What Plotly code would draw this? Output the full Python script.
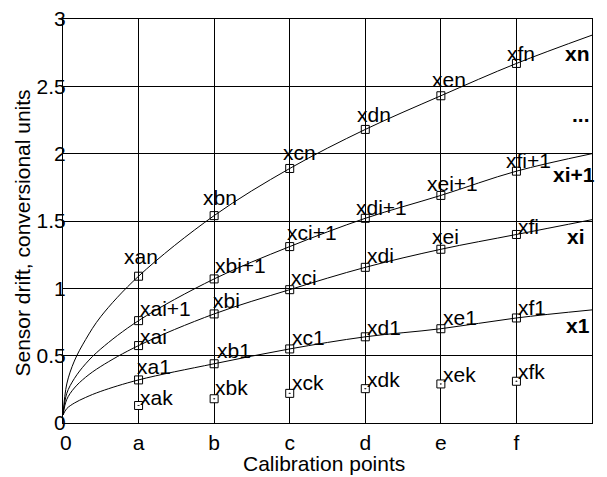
import plotly.graph_objects as go

# ---------------- data ----------------
point_x = [1, 2, 3, 4, 5, 6]
x_tick_vals = [0, 1, 2, 3, 4, 5, 6]
x_tick_text = ["\u00a00", "a", "b", "c", "d", "e", "f"]
y_tick_vals = [0, 0.5, 1, 1.5, 2, 2.5, 3]
y_tick_text = ["0", "0.5", "1", "1.5", "2", "2.5", "3"]

# marker values
xn_vals = [1.09, 1.54, 1.89, 2.18, 2.43, 2.67]
xi1_vals = [0.76, 1.07, 1.31, 1.52, 1.69, 1.87]
xi_vals = [0.575, 0.81, 0.99, 1.156, 1.29, 1.40]
x1_vals = [0.32, 0.44, 0.55, 0.64, 0.70, 0.78]
xk_vals = [0.13, 0.18, 0.22, 0.255, 0.29, 0.31]

xn_labels = ["xan", "xbn", "xcn", "xdn", "xen", "xfn"]
xi1_labels = ["xai+1", "xbi+1", "xci+1", "xdi+1", "xei+1", "xfi+1"]
xi_labels = ["xai", "xbi", "xci", "xdi", "xei", "xfi"]
x1_labels = ["xa1", "xb1", "xc1", "xd1", "xe1", "xf1"]
xk_labels = ["xak", "xbk", "xck", "xdk", "xek", "xfk"]

# fitted curves
curve_x = [0, 0.05, 0.15, 0.3, 0.5, 1, 2, 3, 4, 5, 6, 7]
curve_xn = [0.06, 0.29, 0.46, 0.62, 0.79, 1.09, 1.54, 1.89, 2.18, 2.43, 2.67, 2.88]
curve_xi1 = [0.06, 0.22, 0.33, 0.44, 0.55, 0.76, 1.07, 1.31, 1.52, 1.69, 1.87, 2.0]
curve_xi = [0.06, 0.175, 0.26, 0.34, 0.42, 0.575, 0.81, 0.99, 1.156, 1.29, 1.40, 1.51]
curve_x1 = [0.06, 0.107, 0.148, 0.19, 0.235, 0.32, 0.44, 0.55, 0.64, 0.70, 0.78, 0.84]

right_labels = ["xn", "...", "xi+1", "xi", "x1"]

# ---------------- style ----------------
FONT = "Arial, Liberation Sans, sans-serif"
FS = 21
# label offsets in pixels (dx right, dy up) per point
xn_off = [(-15, 20), (-11, 18), (-7, 16), (-8, 15), (-9, 16), (-9, 10)]
xi1_off = [(1, 12), (1, 13), (-3, 14), (-9, 11), (-14, 12), (-10, 11)]
xi_off = [(1, 9), (-1, 13), (1, 12), (2, 12), (-9, 13), (2, 8)]
x1_off = [(-2, 13), (3, 13), (2, 11), (2, 9), (2, 11), (2, 10)]
xk_off = [(1, 8), (1, 11), (2, 11), (2, 9), (2, 9), (2, 10)]

fig = go.Figure()

for cy in [curve_xn, curve_xi1, curve_xi, curve_x1]:
    fig.add_trace(go.Scatter(x=curve_x, y=cy, mode="lines",
                             line=dict(color="black", width=1, shape="spline", smoothing=1.0),
                             hoverinfo="skip", showlegend=False))

for vals in [xn_vals, xi1_vals, xi_vals, x1_vals]:
    fig.add_trace(go.Scatter(x=point_x, y=vals, mode="markers",
                             marker=dict(symbol="square-open", size=8, color="black",
                                         line=dict(width=1, color="black")),
                             showlegend=False))
fig.add_trace(go.Scatter(x=point_x, y=xk_vals, mode="markers",
                         marker=dict(symbol="square-dot", size=8, color="white",
                                     line=dict(width=1, color="black")),
                         showlegend=False))

annotations = []
for vals, labs, offs in [(xn_vals, xn_labels, xn_off), (xi1_vals, xi1_labels, xi1_off),
                         (xi_vals, xi_labels, xi_off), (x1_vals, x1_labels, x1_off),
                         (xk_vals, xk_labels, xk_off)]:
    for xv, yv, lab, (dx, dy) in zip(point_x, vals, labs, offs):
        annotations.append(dict(x=xv, y=yv, xref="x", yref="y", text=lab, showarrow=False,
                                xanchor="left", yanchor="middle", xshift=dx - 2, yshift=dy,
                                font=dict(family=FONT, size=FS, color="black")))

# right-side series names (paper coords)
right_pos = [(1.0, 0.9135), (1.0, 0.764), (1.0095, 0.615), (0.9905, 0.4615), (1.0, 0.2404)]
for lab, (px, py) in zip(right_labels, right_pos):
    annotations.append(dict(x=px, y=py, xref="paper", yref="paper", text="<b>%s</b>" % lab,
                            showarrow=False, xanchor="right", yanchor="middle",
                            font=dict(family=FONT, size=FS, color="black")))

# axis titles
annotations.append(dict(x=-0.0756, y=0.469, xref="paper", yref="paper",
                        text="Sensor drift, conversional units", textangle=-90, showarrow=False,
                        xanchor="center", yanchor="middle",
                        font=dict(family=FONT, size=FS, color="black")))
annotations.append(dict(x=0.4943, y=-0.1, xref="paper", yref="paper",
                        text="Calibration points", showarrow=False,
                        xanchor="center", yanchor="middle",
                        font=dict(family=FONT, size=FS, color="black")))

fig.update_layout(
    width=607, height=477,
    margin=dict(l=63, r=15, t=7, b=54),
    paper_bgcolor="white", plot_bgcolor="white",
    font=dict(family=FONT, size=FS, color="black"),
    annotations=annotations,
    xaxis=dict(range=[0, 7], tickvals=x_tick_vals, ticktext=x_tick_text,
               showgrid=True, gridcolor="black", gridwidth=1, zeroline=False,
               showline=True, linecolor="black", linewidth=1, mirror=True, ticks="",
               ticklabelstandoff=1, tickfont=dict(family=FONT, size=FS, color="black")),
    yaxis=dict(range=[0, 3], tickvals=y_tick_vals, ticktext=y_tick_text,
               showgrid=True, gridcolor="black", gridwidth=1, zeroline=False,
               showline=True, linecolor="black", linewidth=1, mirror=True, ticks="",
               ticklabeloverflow="allow",
               ticklabelstandoff=-8, tickfont=dict(family=FONT, size=FS, color="black")),
)

fig.write_html("out.html")
